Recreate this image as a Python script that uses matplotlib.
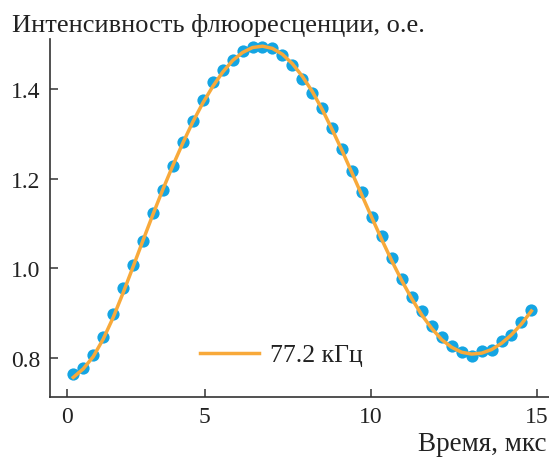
import matplotlib
matplotlib.use("Agg")
import matplotlib.pyplot as plt

# Data
time_us = [1.04, 1.34, 1.64, 1.94, 2.24, 2.54, 2.84, 3.14, 3.44, 3.74,
           4.04, 4.34, 4.64, 4.94, 5.24, 5.54, 5.84, 6.14, 6.44, 6.74,
           7.04, 7.34, 7.64, 7.94, 8.24, 8.54, 8.84, 9.14, 9.44, 9.74,
           10.04, 10.34, 10.64, 10.94, 11.24, 11.54, 11.84, 12.14, 12.44, 12.74,
           13.04, 13.34, 13.64, 13.94, 14.24, 14.54, 14.84]
intensity = [0.765, 0.778, 0.806, 0.848, 0.898, 0.956, 1.008, 1.060, 1.124, 1.175,
             1.228, 1.281, 1.329, 1.374, 1.416, 1.442, 1.465, 1.484, 1.493, 1.493,
             1.492, 1.476, 1.454, 1.421, 1.391, 1.357, 1.312, 1.265, 1.216, 1.169,
             1.115, 1.071, 1.023, 0.977, 0.936, 0.904, 0.871, 0.846, 0.826, 0.813,
             0.804, 0.815, 0.817, 0.839, 0.852, 0.880, 0.908]
fit_curve = [0.757, 0.776, 0.803, 0.842, 0.890, 0.945, 1.003, 1.062, 1.120, 1.176,
             1.229, 1.279, 1.326, 1.368, 1.405, 1.437, 1.463, 1.481, 1.492, 1.495,
             1.490, 1.477, 1.456, 1.428, 1.394, 1.354, 1.309, 1.262, 1.212, 1.162,
             1.112, 1.063, 1.016, 0.972, 0.932, 0.896, 0.866, 0.841, 0.824, 0.813,
             0.809, 0.811, 0.819, 0.833, 0.852, 0.876, 0.905]
fit_label = "77.2 кГц"
y_ticks = [0.8, 1.0, 1.2, 1.4]
y_tick_labels = ["0.8", "1.0", "1.2", "1.4"]
x_ticks = [0.84, 5, 10, 15]
x_tick_labels = ["0", "5", "10", "15"]
y_title = "Интенсивность флюоресценции, о.е."
x_title = "Время, мкс"

plt.rcParams['font.family'] = ['Liberation Serif', 'DejaVu Serif']
plt.rcParams['font.size'] = 17

fig = plt.figure(figsize=(5.49, 4.60), dpi=100)
ax = fig.add_axes([50/549, 1-397.7/460, 1-50/549, (397.7-40)/460])

ax.plot(time_us, intensity, 'o', color='#14a5e3', markersize=8.8,
        markeredgewidth=0, zorder=2)
line, = ax.plot(time_us, fit_curve, '-', color='#f8a93a', linewidth=2.5,
                zorder=3, label=fit_label)

ax.set_xlim(0.34, 15.37)
ax.set_ylim(0.714, 1.511)
ax.set_xticks(x_ticks)
ax.set_xticklabels(x_tick_labels)
ax.set_yticks(y_ticks)
ax.set_yticklabels(y_tick_labels)

for s in ['top', 'right']:
    ax.spines[s].set_visible(False)
for s in ['left', 'bottom']:
    ax.spines[s].set_color('#333333')
    ax.spines[s].set_linewidth(1.2)
ax.tick_params(direction='in', length=6, width=1.1, color='#333333',
               labelcolor='#222222', labelsize=17)
ax.tick_params(axis='y', pad=7)
ax.tick_params(axis='x', pad=7)

fig.text(12/549, 1-32/460, y_title, ha='left', va='baseline',
         fontsize=19, color='#222222')
fig.text(547/549, 1-451/460, x_title, ha='right', va='baseline',
         fontsize=19.5, color='#222222')

fig.legend(handles=[line], loc='center left',
           bbox_to_anchor=(200/549, 1-356/460), bbox_transform=fig.transFigure,
           frameon=False, borderpad=0, borderaxespad=0,
           handlelength=2.3, handletextpad=0.43, fontsize=18.5,
           labelcolor='#222222')

fig.savefig('out.png', dpi=100)
